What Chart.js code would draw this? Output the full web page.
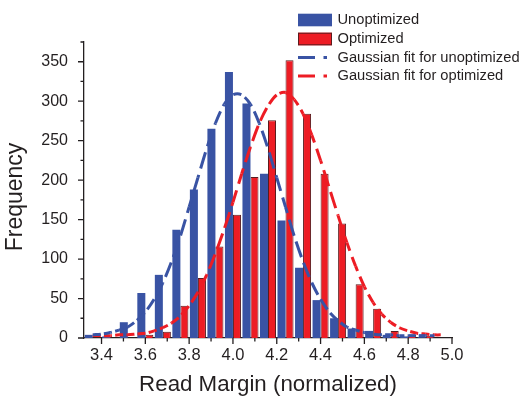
<!DOCTYPE html>
<html>
<head>
<meta charset="utf-8">
<title>Read margin histogram</title>
<script src="https://cdn.jsdelivr.net/npm/chart.js@4.4.1/dist/chart.umd.min.js"></script>
<style>
  html, body { margin: 0; padding: 0; background: #fff; }
  canvas { display: block; }
</style>
</head>
<body>
<canvas id="marginChart" width="523" height="398"></canvas>
<script>
// Histogram bins (bin centres) and counts
const binCenters = [3.36, 3.44, 3.52, 3.60, 3.68, 3.76, 3.84, 3.92, 4.00, 4.08, 4.16,
                    4.24, 4.32, 4.40, 4.48, 4.56, 4.64, 4.72, 4.80, 4.88, 4.96];
const unoptimized = [4, 2, 20, 57, 80, 137, 188, 265, 337, 297, 208,
                     149, 89, 48, 25, 12, 9, 4, 2, 1, 0];
const optimized = [0, 0, 0, 4, 8, 41, 76, 116, 156, 204, 276,
                   352, 284, 208, 145, 68, 37, 9, 4, 3, 0];

// Gaussian fit curves
const fitX = [3.36, 3.40, 3.44, 3.48, 3.52, 3.56, 3.60, 3.64, 3.68, 3.72, 3.76,
              3.80, 3.84, 3.88, 3.92, 3.96, 4.00, 4.04, 4.08, 4.12, 4.16, 4.20,
              4.24, 4.28, 4.32, 4.36, 4.40, 4.44, 4.48, 4.52, 4.56, 4.60, 4.64,
              4.68, 4.72, 4.76, 4.80, 4.84, 4.88, 4.92, 4.96];
const fitUnoptimized = [4, 5, 7, 10, 14, 22, 33, 49, 70, 97, 129,
                        166, 203, 240, 272, 296, 308, 308, 296, 272, 240, 203,
                        166, 129, 97, 70, 49, 33, 22, 14, 10, 7, 5,
                        4, 4, 3, 3, 3, 3, 3];
const fitOptimized = [3, 3, 3, 4, 4, 5, 6, 9, 13, 19, 28,
                      41, 58, 80, 107, 138, 172, 208, 242, 272, 294, 308,
                      311, 302, 284, 257, 225, 190, 155, 121, 91, 65, 45,
                      30, 20, 13, 9, 6, 5, 4, 4];

// Axis ticks
const xTicks = [3.4, 3.6, 3.8, 4.0, 4.2, 4.4, 4.6, 4.8, 5.0];
const xMinorTicks = [3.5, 3.7, 3.9, 4.1, 4.3, 4.5, 4.7, 4.9];
const yTicks = [0, 50, 100, 150, 200, 250, 300, 350];
const yMinorTicks = [25, 75, 125, 175, 225, 275, 325, 375];

const BLUE = '#3953a4';
const RED = '#ed1c24';
const RED_EDGE = '#5a1c1e';
const INK = '#231f20';
const FONT = '"Liberation Sans", Arial, sans-serif';

// Dash pattern that stretches on steep parts (measured with y squashed)
const DASH_ON = 8, DASH_OFF = 3.2, SQUASH = 0.4;

function squashedLen(a, b) {
    return Math.hypot(b.x - a.x, (b.y - a.y) * SQUASH);
}

function segmentDash(ctx) {
    const pts = ctx.chart.getDatasetMeta(ctx.datasetIndex).data;
    let cum = 0;
    for (let i = 0; i < ctx.p0DataIndex; i++) cum += squashedLen(pts[i], pts[i + 1]);
    const m = squashedLen(ctx.p0, ctx.p1);
    const real = Math.hypot(ctx.p1.x - ctx.p0.x, ctx.p1.y - ctx.p0.y);
    const s = m > 0 ? real / m : 1;
    return { dash: [DASH_ON * s, DASH_OFF * s], offset: (cum % (DASH_ON + DASH_OFF)) * s };
}

function toPoints(xs, ys) {
    return ys.map((y, i) => ({ x: xs[i], y: y }));
}

// Ticks, y title and legend
const decorations = {
    id: 'decorations',
    afterDraw(chart) {
        const { ctx, chartArea } = chart;
        const x = chart.scales.x, y = chart.scales.y;
        ctx.save();

        ctx.strokeStyle = INK;
        ctx.lineWidth = 1.3;
        ctx.beginPath();
        xTicks.forEach(v => {
            const px = x.getPixelForValue(v);
            ctx.moveTo(px, chartArea.bottom); ctx.lineTo(px, chartArea.bottom + 6);
        });
        xMinorTicks.forEach(v => {
            const px = x.getPixelForValue(v);
            ctx.moveTo(px, chartArea.bottom); ctx.lineTo(px, chartArea.bottom + 3.5);
        });
        yTicks.forEach(v => {
            const py = y.getPixelForValue(v);
            ctx.moveTo(chartArea.left, py); ctx.lineTo(chartArea.left - 6, py);
        });
        yMinorTicks.forEach(v => {
            const py = y.getPixelForValue(v);
            ctx.moveTo(chartArea.left, py); ctx.lineTo(chartArea.left - 3.5, py);
        });
        ctx.stroke();

        // y axis title
        ctx.fillStyle = INK;
        ctx.font = '23px ' + FONT;
        ctx.textAlign = 'center';
        ctx.textBaseline = 'middle';
        ctx.translate(16, 197);
        ctx.rotate(-Math.PI / 2);
        ctx.fillText('Frequency', 0, 0);
        ctx.setTransform(1, 0, 0, 1, 0, 0);

        // legend
        const ds = chart.data.datasets;
        const lx = 298, tx = 337.5;
        const rows = [20, 39, 57.5, 76];
        ctx.font = '14.7px ' + FONT;
        ctx.textAlign = 'left';

        ctx.fillStyle = BLUE;
        ctx.fillRect(lx, rows[0] - 6.3, 34, 12.6);
        ctx.fillStyle = RED;
        ctx.fillRect(lx, rows[1] - 6.3, 34, 12.6);
        ctx.strokeStyle = RED_EDGE;
        ctx.lineWidth = 1;
        ctx.strokeRect(lx + 0.5, rows[1] - 5.8, 33, 11.6);

        [[BLUE, rows[2]], [RED, rows[3]]].forEach(([c, ry]) => {
            ctx.strokeStyle = c;
            ctx.lineWidth = 3;
            ctx.beginPath();
            ctx.moveTo(lx, ry); ctx.lineTo(lx + 17, ry);
            ctx.moveTo(lx + 25.5, ry); ctx.lineTo(lx + 29, ry);
            ctx.stroke();
        });

        ctx.fillStyle = INK;
        ctx.fillText(ds[2].label, tx, rows[0]);
        ctx.fillText(ds[3].label, tx, rows[1]);
        ctx.fillText(ds[0].label, tx, rows[2]);
        ctx.fillText(ds[1].label, tx, rows[3]);

        ctx.restore();
    }
};

const fitLine = (label, color, ys) => ({
    type: 'line',
    label: label,
    data: toPoints(fitX, ys),
    borderColor: color,
    borderWidth: 3,
    borderCapStyle: 'butt',
    pointRadius: 0,
    fill: false,
    tension: 0.3,
    order: 0,
    segment: {
        borderDash: c => segmentDash(c).dash,
        borderDashOffset: c => segmentDash(c).offset
    }
});

new Chart(document.getElementById('marginChart'), {
    type: 'bar',
    data: {
        datasets: [
            fitLine('Gaussian fit for unoptimized', BLUE, fitUnoptimized),
            fitLine('Gaussian fit for optimized', RED, fitOptimized),
            {
                label: 'Unoptimized',
                data: toPoints(binCenters, unoptimized),
                backgroundColor: BLUE,
                borderWidth: 0,
                categoryPercentage: 0.915,
                barPercentage: 1.0,
                order: 1
            },
            {
                label: 'Optimized',
                data: toPoints(binCenters, optimized),
                backgroundColor: RED,
                borderColor: RED_EDGE,
                borderWidth: 1,
                categoryPercentage: 0.915,
                barPercentage: 1.0,
                order: 1
            }
        ]
    },
    options: {
        responsive: false,
        animation: false,
        layout: { padding: { left: 0, top: 42, right: 71, bottom: 0 } },
        plugins: {
            legend: { display: false },
            tooltip: { enabled: false }
        },
        scales: {
            x: {
                type: 'linear',
                min: 3.32,
                max: 5.0,
                offset: false,
                grid: { display: false, drawTicks: false, offset: false },
                border: { display: true, color: INK, width: 1.3 },
                afterBuildTicks: s => { s.ticks = xTicks.map(v => ({ value: v })); },
                afterFit: s => { s.height = 60; },
                ticks: {
                    padding: 8,
                    maxRotation: 0,
                    autoSkip: false,
                    color: INK,
                    font: { size: 16.5, family: FONT },
                    callback: v => v.toFixed(1)
                },
                title: {
                    display: true,
                    text: 'Read Margin (normalized)',
                    color: INK,
                    font: { size: 22.3, family: FONT },
                    padding: { top: 0, bottom: 0 }
                }
            },
            y: {
                min: 0,
                max: 375,
                grid: { display: false, drawTicks: false },
                border: { display: true, color: INK, width: 1.3 },
                afterBuildTicks: s => { s.ticks = yTicks.map(v => ({ value: v })); },
                afterFit: s => { s.width = 84; },
                ticks: {
                    padding: 16,
                    autoSkip: false,
                    color: INK,
                    font: { size: 16, family: FONT }
                }
            }
        }
    },
    plugins: [decorations]
});
</script>
</body>
</html>
